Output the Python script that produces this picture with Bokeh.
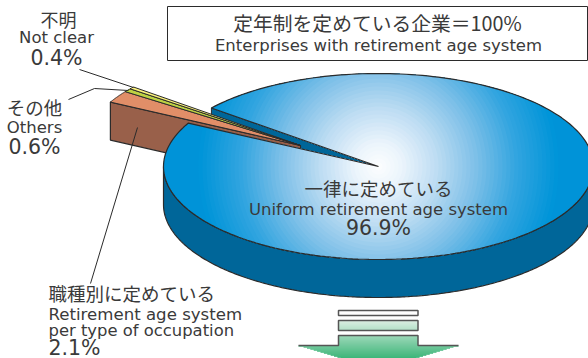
import numpy as np
from bokeh.plotting import figure
from bokeh.models import Range1d
from bokeh.core.properties import value
from bokeh.embed import file_html
from bokeh.resources import INLINE

# ---- data ----
categories_ja = ["一律に定めている", "職種別に定めている", "その他", "不明"]
categories_en = ["Uniform retirement age system", "Retirement age system per type of occupation", "Others", "Not clear"]
shares = [96.9, 2.1, 0.6, 0.4]
share_labels = ["96.9%", "2.1%", "0.6%", "0.4%"]
title_ja = "定年制を定めている企業＝100%"
title_en = "Enterprises with retirement age system"

# ---- geometry (reference pixels) ----
W, H = 588, 358
CX, CY, RX, RY = 378, 166, 215, 93
DEPTH = 38
OFFSET = (-78, -21)
START = 141.0          # degrees, upper edge of the notch
LINE = "#2b2b2b"
TXT = "#3a3a3a"
JP = value("Noto Sans CJK JP")
EN = value("DejaVu Sans")

p = figure(width=W, height=H, x_range=Range1d(0, W), y_range=Range1d(H, 0),
           toolbar_location=None, output_backend="svg", min_border=0,
           outline_line_color=None, background_fill_color="white")
p.axis.visible = False
p.grid.visible = False

frac = np.array(shares) / sum(shares) * 360
# angles: small slices run counter-clockwise from START
a_unclear = (START, START + frac[3])
a_other = (a_unclear[1], a_unclear[1] + frac[2])
a_type = (a_other[1], a_other[1] + frac[1])
a_main = (a_type[1], a_type[1] + frac[0])


def rim(a0, a1, cx=CX, cy=CY, n=240):
    t = np.radians(np.linspace(a0, a1, n))
    return cx + RX * np.cos(t), cy - RY * np.sin(t)


def wedge(a0, a1, cx=CX, cy=CY):
    x, y = rim(a0, a1, cx, cy)
    return np.r_[cx, x], np.r_[cy, y]


# main pie wall
x, y = rim(180, 360)
p.patch(np.r_[x, x[::-1]], np.r_[y, y[::-1] + DEPTH], fill_color="#006699", line_color=LINE, line_width=1.2)

# notch wall (upper main edge)
ex, ey = rim(START, START, n=1)
p.patch([ex[0], CX, CX, ex[0]], [ey[0], CY, CY + DEPTH, ey[0] + DEPTH], fill_color="#006699", line_color=LINE, line_width=1)

# exploded slices
tx, ty = CX + OFFSET[0], CY + OFFSET[1]
bx, by = rim(a_type[1], a_type[1], tx, ty, n=1)
p.patch([bx[0], tx, tx, bx[0]], [by[0], ty, ty + DEPTH, by[0] + DEPTH], fill_color="#99604A", line_color=LINE, line_width=1.2)
for (a0, a1), col in [(a_type, "#E18E68"), (a_other, "#BED243"), (a_unclear, "#FBF27C")]:
    x, y = wedge(a0, a1, tx, ty)
    p.patch(x, y, fill_color=col, line_color=LINE, line_width=1)

# main pie top: radial gradient built from nested shapes
stops_r = [0, 25, 60, 100, 140, 180]
stops_c = [(255, 255, 255), (236, 245, 252), (190, 221, 243), (125, 192, 232), (50, 165, 224), (0, 149, 217)]
x0, y0 = wedge(*a_main)
p.patch(x0, y0, fill_color="#0093D8", line_color=None)
rx, ry = rim(*a_main)
dx, dy = rx - CX, ry - CY
dist = np.hypot(dx, dy)
for r in np.arange(180, 0, -4.0):
    k = np.minimum(1, r / dist)
    c = [int(np.interp(r, stops_r, [s[i] for s in stops_c])) for i in range(3)]
    p.patch(np.r_[CX, CX + dx * k], np.r_[CY, CY + dy * k], fill_color="#%02x%02x%02x" % tuple(c), line_color=None)
p.patch(x0, y0, fill_color=None, line_color=LINE, line_width=1.2)

# leader lines
p.line([79, 133], [69, 87], line_color=LINE, line_width=1)
p.line([68, 94, 128], [99, 88, 90], line_color=LINE, line_width=1)
p.line([137, 90], [127, 283], line_color=LINE, line_width=1)

# title box
p.quad(left=167, right=587, top=6, bottom=60, fill_color="white", line_color=LINE, line_width=1)


# arrow with vertical gradient
def arrow_half(yy):
    yy = np.asarray(yy, dtype=float)
    return np.where(yy < 345, 39.5, np.where(yy < 346, 80, 80 - (yy - 345) * 44 / 13))


AX = 378
top_c, bot_c = np.array([214, 236, 222]), np.array([30, 170, 100])
ys = np.arange(320, 359, 1.0)
for yy in ys:
    if 330 <= yy < 335:
        continue
    c = (top_c + (bot_c - top_c) * (yy - 320) / 38).astype(int)
    hw = arrow_half(yy + 0.5)
    p.quad(left=AX - hw, right=AX + hw, top=yy, bottom=yy + 1.2, fill_color="#%02x%02x%02x" % tuple(c), line_color=None)
p.quad(left=338, right=417.5, top=310, bottom=315, fill_color="white", line_color="#555555", line_width=1.5)
p.quad(left=338, right=417.5, top=320, bottom=330, fill_color=None, line_color="#555555", line_width=1.5)
p.line([298, 338, 338, 417.5, 417.5, 458], [345, 345, 335, 335, 345, 345], line_color="#555555", line_width=1.5)


def label(x, y, t, size, font, align="center"):
    p.text(x=[x], y=[y], text=[t], text_font=font, text_font_size=f"{size}px", text_color=TXT,
           text_align=align, text_baseline="middle")


label(377, 22, title_ja, 19.8, JP)
label(378, 45, title_en, 16.5, EN)
label(378, 187.5, categories_ja[0], 18.5, JP)
label(378, 209, categories_en[0], 16.5, EN)
label(378, 227, share_labels[0], 20.5, EN)
label(58, 18, categories_ja[3], 18, JP)
label(56, 37, categories_en[3], 16.5, EN)
label(56, 57, share_labels[3], 20.5, EN)
label(34, 106, categories_ja[2], 18.5, JP)
label(34, 127, categories_en[2], 16.5, EN)
label(34, 146, share_labels[2], 20.5, EN)
label(48, 292, categories_ja[1], 18.5, JP, "left")
label(48, 314, "Retirement age system", 16.6, EN, "left")
label(48, 330, "per type of occupation", 16.4, EN, "left")
label(48, 347, share_labels[1], 20.5, EN, "left")

open("out.html", "w").write(file_html(p, INLINE))
